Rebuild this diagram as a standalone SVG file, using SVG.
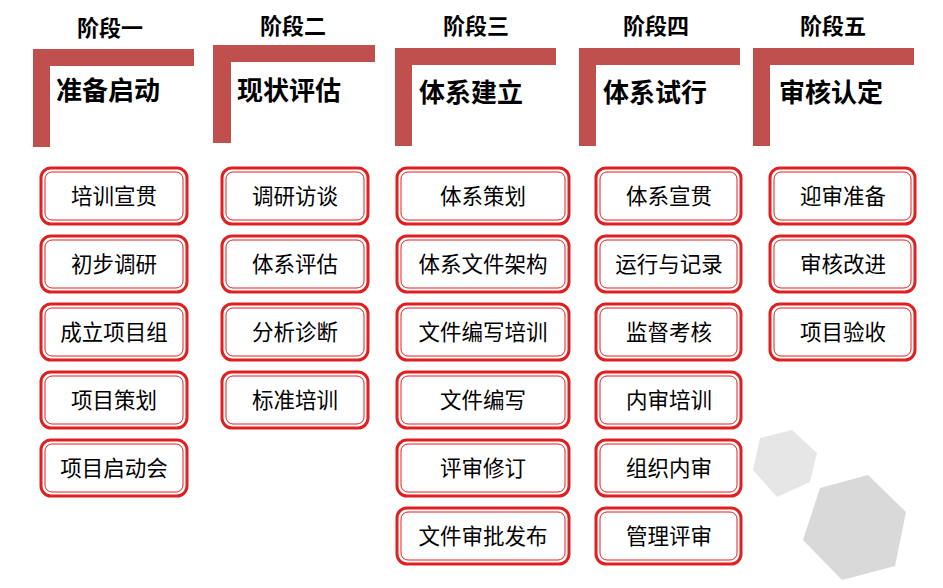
<svg xmlns="http://www.w3.org/2000/svg" width="943" height="588" viewBox="0 0 943 588">
<style>
.st{font-family:"Noto Sans CJK SC",sans-serif;font-weight:bold;font-size:22px;text-anchor:middle}
.hd{font-family:"Noto Sans CJK SC",sans-serif;font-weight:bold;font-size:26px}
.br{fill:#c0504d}
.o{fill:#fff;stroke:#e02020;stroke-width:3}
.i{fill:none;stroke:#e02020;stroke-width:1}
.t{font-family:"Noto Sans CJK SC",sans-serif;font-size:21.5px;text-anchor:middle}
</style>
<rect width="943" height="588" fill="#fff"/>
<g id="hex"><polygon points="760,438 792,430 817,453 810,482 777,497 753,470" fill="#e6e6e6"/><polygon points="820,488 868,475 906,512 895,566 842,580 803,540" fill="#d9d9d9"/></g>
<g id="stage1"><text class="st" x="110" y="36">阶段一</text><path class="br" d="M33 49h161v17h-144v81h-17z"/><text class="hd" x="56" y="100">准备启动</text></g>
<g id="stage2"><text class="st" x="293" y="34">阶段二</text><path class="br" d="M213 45h162v17h-144v81h-18z"/><text class="hd" x="237" y="100">现状评估</text></g>
<g id="stage3"><text class="st" x="476" y="34">阶段三</text><path class="br" d="M395 48h161v17h-144v81h-17z"/><text class="hd" x="419" y="102">体系建立</text></g>
<g id="stage4"><text class="st" x="656" y="34">阶段四</text><path class="br" d="M579 48h161v17h-144v81h-17z"/><text class="hd" x="603" y="102">体系试行</text></g>
<g id="stage5"><text class="st" x="833" y="34">阶段五</text><path class="br" d="M753 48h161v17h-144v81h-17z"/><text class="hd" x="779" y="102">审核认定</text></g>
<g id="boxes">
<g id="c1">
<g><rect class="o" x="41" y="168" width="146" height="56" rx="10"/><rect class="i" x="45" y="172" width="138" height="48" rx="7"/><text class="t" x="114" y="204">培训宣贯</text></g>
<g><rect class="o" x="41" y="236" width="146" height="56" rx="10"/><rect class="i" x="45" y="240" width="138" height="48" rx="7"/><text class="t" x="114" y="272">初步调研</text></g>
<g><rect class="o" x="41" y="304" width="146" height="56" rx="10"/><rect class="i" x="45" y="308" width="138" height="48" rx="7"/><text class="t" x="114" y="340">成立项目组</text></g>
<g><rect class="o" x="41" y="372" width="146" height="56" rx="10"/><rect class="i" x="45" y="376" width="138" height="48" rx="7"/><text class="t" x="114" y="408">项目策划</text></g>
<g><rect class="o" x="41" y="440" width="146" height="56" rx="10"/><rect class="i" x="45" y="444" width="138" height="48" rx="7"/><text class="t" x="114" y="476">项目启动会</text></g>
</g>
<g id="c2">
<g><rect class="o" x="222" y="168" width="146" height="56" rx="10"/><rect class="i" x="226" y="172" width="138" height="48" rx="7"/><text class="t" x="295" y="204">调研访谈</text></g>
<g><rect class="o" x="222" y="236" width="146" height="56" rx="10"/><rect class="i" x="226" y="240" width="138" height="48" rx="7"/><text class="t" x="295" y="272">体系评估</text></g>
<g><rect class="o" x="222" y="304" width="146" height="56" rx="10"/><rect class="i" x="226" y="308" width="138" height="48" rx="7"/><text class="t" x="295" y="340">分析诊断</text></g>
<g><rect class="o" x="222" y="372" width="146" height="56" rx="10"/><rect class="i" x="226" y="376" width="138" height="48" rx="7"/><text class="t" x="295" y="408">标准培训</text></g>
</g>
<g id="c3">
<g><rect class="o" x="397" y="168" width="172" height="56" rx="10"/><rect class="i" x="401" y="172" width="164" height="48" rx="7"/><text class="t" x="483" y="204">体系策划</text></g>
<g><rect class="o" x="397" y="236" width="172" height="56" rx="10"/><rect class="i" x="401" y="240" width="164" height="48" rx="7"/><text class="t" x="483" y="272">体系文件架构</text></g>
<g><rect class="o" x="397" y="304" width="172" height="56" rx="10"/><rect class="i" x="401" y="308" width="164" height="48" rx="7"/><text class="t" x="483" y="340">文件编写培训</text></g>
<g><rect class="o" x="397" y="372" width="172" height="56" rx="10"/><rect class="i" x="401" y="376" width="164" height="48" rx="7"/><text class="t" x="483" y="408">文件编写</text></g>
<g><rect class="o" x="397" y="440" width="172" height="56" rx="10"/><rect class="i" x="401" y="444" width="164" height="48" rx="7"/><text class="t" x="483" y="476">评审修订</text></g>
<g><rect class="o" x="397" y="508" width="172" height="56" rx="10"/><rect class="i" x="401" y="512" width="164" height="48" rx="7"/><text class="t" x="483" y="544">文件审批发布</text></g>
</g>
<g id="c4">
<g><rect class="o" x="596" y="168" width="145" height="56" rx="10"/><rect class="i" x="600" y="172" width="137" height="48" rx="7"/><text class="t" x="669" y="204">体系宣贯</text></g>
<g><rect class="o" x="596" y="236" width="145" height="56" rx="10"/><rect class="i" x="600" y="240" width="137" height="48" rx="7"/><text class="t" x="669" y="272">运行与记录</text></g>
<g><rect class="o" x="596" y="304" width="145" height="56" rx="10"/><rect class="i" x="600" y="308" width="137" height="48" rx="7"/><text class="t" x="669" y="340">监督考核</text></g>
<g><rect class="o" x="596" y="372" width="145" height="56" rx="10"/><rect class="i" x="600" y="376" width="137" height="48" rx="7"/><text class="t" x="669" y="408">内审培训</text></g>
<g><rect class="o" x="596" y="440" width="145" height="56" rx="10"/><rect class="i" x="600" y="444" width="137" height="48" rx="7"/><text class="t" x="669" y="476">组织内审</text></g>
<g><rect class="o" x="596" y="508" width="145" height="56" rx="10"/><rect class="i" x="600" y="512" width="137" height="48" rx="7"/><text class="t" x="669" y="544">管理评审</text></g>
</g>
<g id="c5">
<g><rect class="o" x="770" y="168" width="145" height="56" rx="10"/><rect class="i" x="774" y="172" width="137" height="48" rx="7"/><text class="t" x="843" y="204">迎审准备</text></g>
<g><rect class="o" x="770" y="236" width="145" height="56" rx="10"/><rect class="i" x="774" y="240" width="137" height="48" rx="7"/><text class="t" x="843" y="272">审核改进</text></g>
<g><rect class="o" x="770" y="304" width="145" height="56" rx="10"/><rect class="i" x="774" y="308" width="137" height="48" rx="7"/><text class="t" x="843" y="340">项目验收</text></g>
</g>
</g>
<g id="connectors"/>
</svg>
